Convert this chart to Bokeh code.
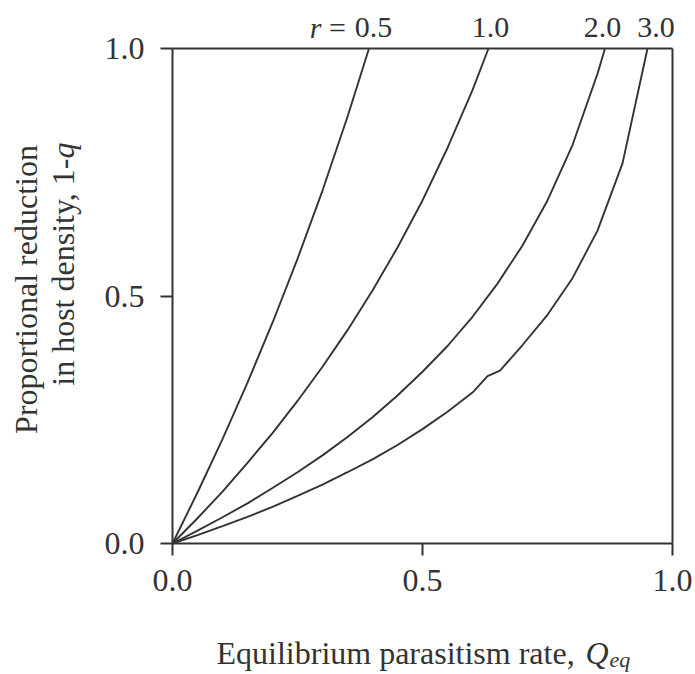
import math
from bokeh.plotting import figure
from bokeh.models import Range1d, Label, FixedTicker, NumeralTickFormatter, LinearAxis
from bokeh.embed import file_html
from bokeh.resources import INLINE

# ---- data ----
q_r05 = [0, 0.05, 0.10, 0.15, 0.20, 0.25, 0.30, 0.35, 0.393]
y_r05 = [0, 0.103, 0.211, 0.325, 0.446, 0.575, 0.713, 0.862, 1.0]

q_r10 = [0, 0.05, 0.10, 0.15, 0.20, 0.25, 0.30, 0.35, 0.40, 0.45, 0.50, 0.55, 0.60, 0.632]
y_r10 = [0, 0.051, 0.105, 0.163, 0.223, 0.288, 0.357, 0.431, 0.511, 0.598, 0.693, 0.799, 0.916, 1.0]

q_r20 = [0, 0.05, 0.10, 0.15, 0.20, 0.25, 0.30, 0.35, 0.40, 0.45, 0.50, 0.55, 0.60, 0.65, 0.70, 0.75, 0.80, 0.85, 0.865]
y_r20 = [0, 0.026, 0.053, 0.081, 0.112, 0.144, 0.178, 0.215, 0.255, 0.299, 0.347, 0.399, 0.458, 0.525, 0.602, 0.693, 0.805, 0.949, 1.0]

q_r30 = [0, 0.05, 0.10, 0.15, 0.20, 0.25, 0.30, 0.35, 0.40, 0.45, 0.50, 0.55, 0.60, 0.63, 0.655, 0.70, 0.75, 0.80, 0.85, 0.90, 0.95]
y_r30 = [0, 0.017, 0.035, 0.054, 0.074, 0.096, 0.119, 0.144, 0.170, 0.199, 0.231, 0.266, 0.305, 0.338, 0.349, 0.401, 0.462, 0.536, 0.632, 0.768, 1.0]

r_labels = ["0.5", "1.0", "2.0", "3.0"]
r_label_x = [0.402, 0.636, 0.860, 0.967]

ticks = [0.0, 0.5, 1.0]

INK = "#333333"
FONT = "Liberation Serif"

W, H = 695, 674
# plot box in page pixels: x 0..1 -> 172..672, y 0..1 -> 543..48
X0, XS = 172.0, 500.0
Y0, YS = 543.0, 495.0

p = figure(width=W, height=H, output_backend="svg", toolbar_location=None,
           x_axis_location=None, y_axis_location=None,
           x_range=Range1d(-X0 / XS, (W - X0) / XS),
           y_range=Range1d(-(H - Y0) / YS, Y0 / YS),
           min_border=0, min_border_left=0, min_border_right=0,
           min_border_top=0, min_border_bottom=0)
p.grid.visible = False
p.background_fill_color = "white"
p.border_fill_color = "white"
p.outline_line_color = None


def style_axis(ax, labels=True, ticks_on=True):
    ax.bounds = (0, 1)
    ax.ticker = FixedTicker(ticks=ticks if ticks_on else [])
    ax.formatter = NumeralTickFormatter(format="0.0")
    ax.minor_tick_line_color = None
    ax.major_tick_in = 0
    ax.major_tick_out = 12
    ax.major_tick_line_color = INK
    ax.major_tick_line_width = 2
    ax.axis_line_color = INK
    ax.axis_line_width = 2
    ax.major_label_text_font = FONT
    ax.major_label_text_font_size = "32px"
    ax.major_label_text_color = INK
    if not labels:
        ax.major_label_text_font_size = "0px"


xb = LinearAxis(fixed_location=0)
style_axis(xb)
xb.major_label_standoff = 14
p.add_layout(xb, "below")

yl = LinearAxis(fixed_location=0)
style_axis(yl)
yl.major_label_standoff = 16
p.add_layout(yl, "left")

xt = LinearAxis(fixed_location=1)
style_axis(xt, labels=False, ticks_on=False)
p.add_layout(xt, "above")

yr = LinearAxis(fixed_location=1)
style_axis(yr, labels=False, ticks_on=False)
p.add_layout(yr, "right")

for xs, ys in ((q_r05, y_r05), (q_r10, y_r10), (q_r20, y_r20), (q_r30, y_r30)):
    p.line(xs, ys, line_color=INK, line_width=1.9)


def X(px):
    return (px - X0) / XS


def Y(py):
    return (Y0 - py) / YS


def lab(text, x, y, size, align="left", style="normal", angle=0.0):
    p.add_layout(Label(x=x, y=y, text=text, text_font=FONT, text_font_size=size,
                       text_color=INK, text_align=align, text_baseline="alphabetic",
                       text_font_style=style, angle=angle))


# curve labels at top
top_y = Y(27)
for t, x in zip(r_labels, r_label_x):
    lab(t, x, top_y, "30px", align="center")
lab("=", X(337), top_y, "30px", align="center")
lab("r", X(315), top_y, "30px", align="center", style="italic")

# x axis title
base = Y(652)
lab("Equilibrium parasitism rate, ", X(216), base, "32px")
lab("Q", X(585), base, "32px", style="italic")
lab("eq", X(609), Y(659), "22px", style="italic")

# y axis title (rotated)
ang = math.pi / 2
lab("Proportional reduction", X(25), Y(289), "32px", align="center", angle=ang)
lab("in host density, 1-", X(62), Y(158), "32px", align="right", angle=ang)
lab("q", X(62), Y(158), "32px", align="left", style="italic", angle=ang)

open("out.html", "w").write(file_html(p, INLINE))
